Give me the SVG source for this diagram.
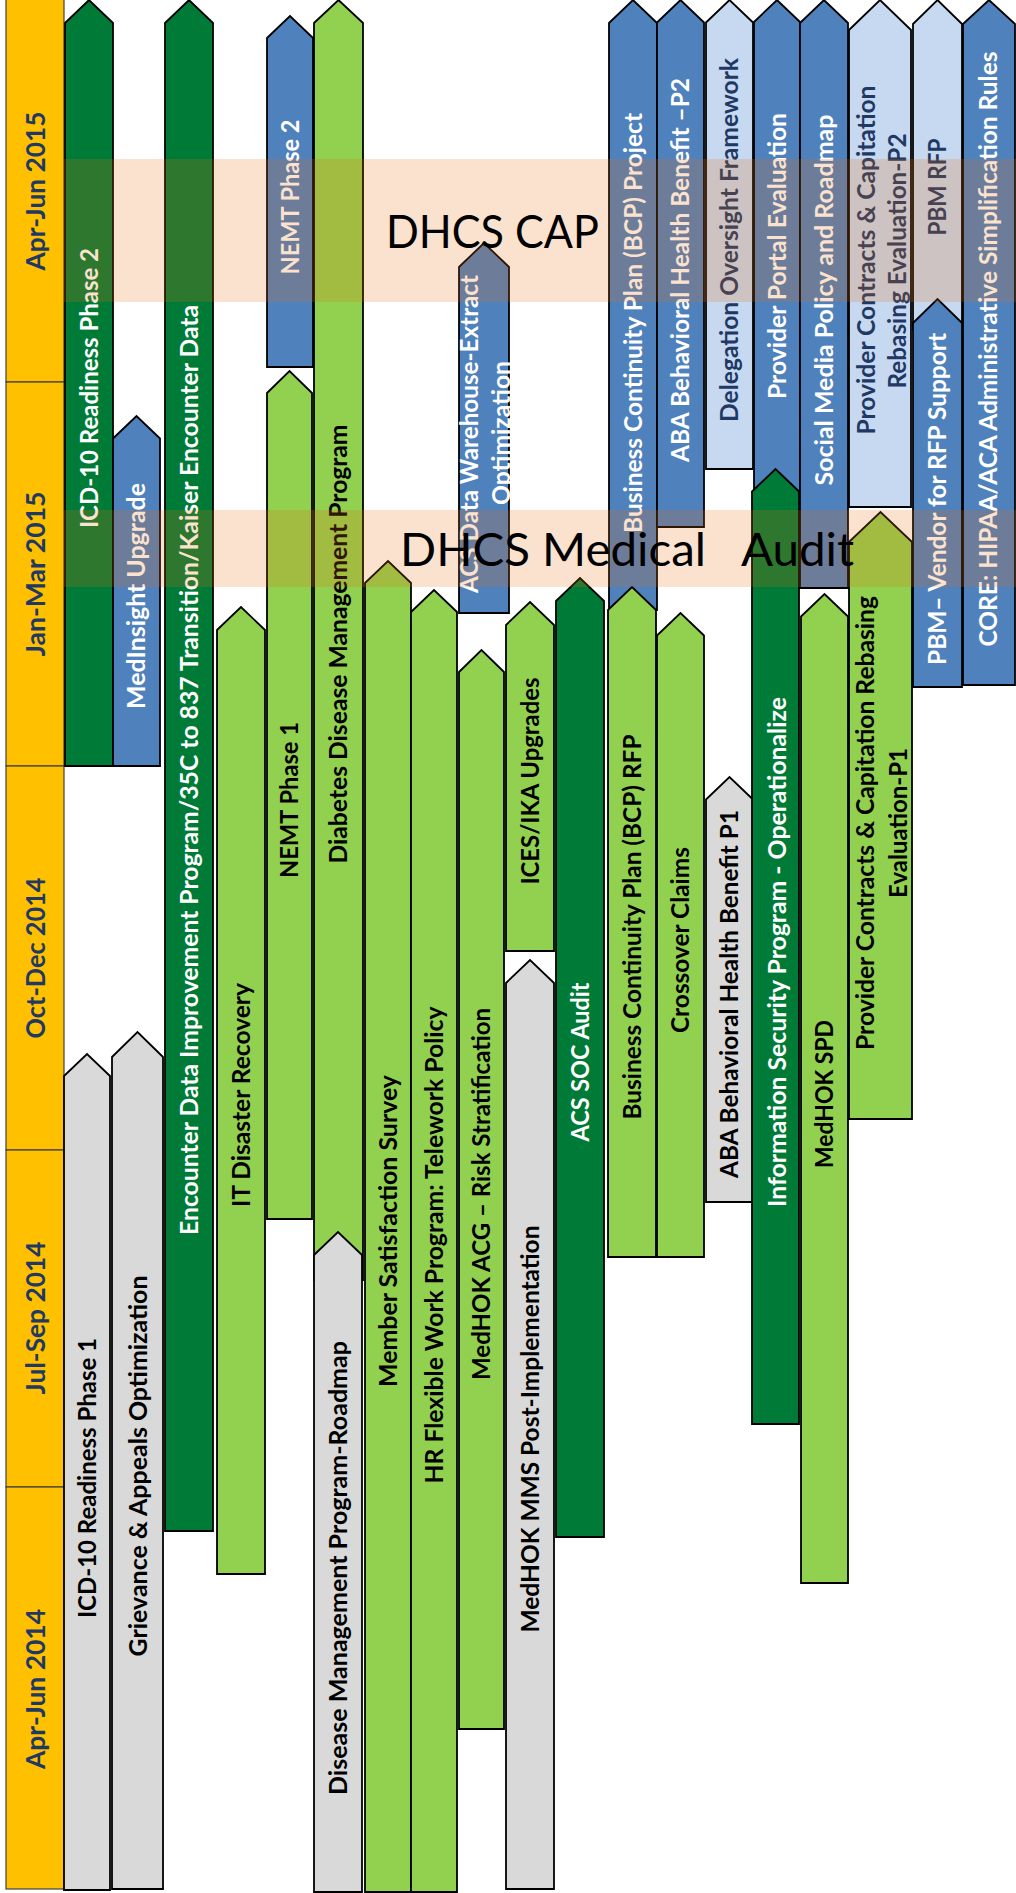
<svg xmlns="http://www.w3.org/2000/svg" width="1016" height="1893" viewBox="0 0 1016 1893">
<style>
.q{fill:#FFC000;stroke:#404040;stroke-width:1.2}
.ql{font-family:Lato,"Liberation Sans",sans-serif;font-weight:700;font-size:27px;fill:#1F3864;text-anchor:middle}
.s{stroke:#000;stroke-width:1.8;stroke-linejoin:miter}
.dg{fill:#007A37}.lg{fill:#92D050}.bl{fill:#4F81BD}.lb{fill:#C6D9F1}.gr{fill:#D9D9D9}
.t{font-family:Lato,"Liberation Sans",sans-serif;font-weight:700;font-size:24.5px;text-anchor:middle}
.w{fill:#FFFFFF}.k{fill:#000000}.n{fill:#1F3864}
.band{fill:#E46C0A;fill-opacity:0.2}
.big{font-family:Lato,"Liberation Sans",sans-serif;font-weight:400;font-size:47px;fill:#000}
</style>
<g id="quarters">
<g id="q-apr-jun-2015"><rect class="q" x="6" y="-2" width="58" height="384"/><text class="ql" transform="translate(45.2,191) rotate(-90)" textLength="159" lengthAdjust="spacingAndGlyphs">Apr-Jun 2015</text></g>
<g id="q-jan-mar-2015"><rect class="q" x="6" y="382" width="58" height="384"/><text class="ql" transform="translate(45.2,574) rotate(-90)" textLength="165" lengthAdjust="spacingAndGlyphs">Jan-Mar 2015</text></g>
<g id="q-oct-dec-2014"><rect class="q" x="6" y="766" width="58" height="384"/><text class="ql" transform="translate(45.2,958) rotate(-90)" textLength="161" lengthAdjust="spacingAndGlyphs">Oct-Dec 2014</text></g>
<g id="q-jul-sep-2014"><rect class="q" x="6" y="1150" width="58" height="337"/><text class="ql" transform="translate(45.2,1318) rotate(-90)" textLength="153" lengthAdjust="spacingAndGlyphs">Jul-Sep 2014</text></g>
<g id="q-apr-jun-2014"><rect class="q" x="6" y="1487" width="58" height="402"/><text class="ql" transform="translate(45.2,1689) rotate(-90)" textLength="160" lengthAdjust="spacingAndGlyphs">Apr-Jun 2014</text></g>
</g>
<g id="projects">
<g id="icd10-p2"><polygon class="s dg" points="65,23 89,0 113,23 113,766 65,766"/><text class="t w" transform="translate(97.8,388) rotate(-90)" textLength="280" lengthAdjust="spacingAndGlyphs">ICD-10 Readiness Phase 2</text></g>
<g id="icd10-p1"><polygon class="s gr" points="64,1076 87,1054 110,1076 110,1890 64,1890"/><text class="t k" transform="translate(96.3,1478) rotate(-90)" textLength="280" lengthAdjust="spacingAndGlyphs">ICD-10 Readiness Phase 1</text></g>
<g id="medinsight"><polygon class="s bl" points="113,438.5 136.5,416 160,438.5 160,766 113,766"/><text class="t w" transform="translate(145.3,596) rotate(-90)" textLength="226" lengthAdjust="spacingAndGlyphs">MedInsight Upgrade</text></g>
<g id="grievance"><polygon class="s gr" points="112,1057 137.5,1032 163,1057 163,1889 112,1889"/><text class="t k" transform="translate(146.8,1466) rotate(-90)" textLength="381" lengthAdjust="spacingAndGlyphs">Grievance &amp; Appeals Optimization</text></g>
<g id="encounter"><polygon class="s dg" points="165,23 189,0 213,23 213,1531 165,1531"/><text class="t w" transform="translate(197.8,770) rotate(-90)" textLength="930" lengthAdjust="spacingAndGlyphs">Encounter Data Improvement Program/35C to 837 Transition/Kaiser Encounter Data</text></g>
<g id="it-dr"><polygon class="s lg" points="217,630 241,607 265,630 265,1574 217,1574"/><text class="t k" transform="translate(249.8,1095) rotate(-90)" textLength="224" lengthAdjust="spacingAndGlyphs">IT Disaster Recovery</text></g>
<g id="nemt-p2"><polygon class="s bl" points="267,38 290,16 313,38 313,367 267,367"/><text class="t w" transform="translate(298.8,197) rotate(-90)" textLength="155" lengthAdjust="spacingAndGlyphs">NEMT Phase 2</text></g>
<g id="nemt-p1"><polygon class="s lg" points="267,393 289.5,371 312,393 312,1219 267,1219"/><text class="t k" transform="translate(298.3,800) rotate(-90)" textLength="156" lengthAdjust="spacingAndGlyphs">NEMT Phase 1</text></g>
<g id="diabetes"><polygon class="s lg" points="314,23 338.5,0 363,23 363,1280 314,1280"/><text class="t k" transform="translate(347.3,644) rotate(-90)" textLength="439" lengthAdjust="spacingAndGlyphs">Diabetes Disease Management Program</text></g>
<g id="dm-roadmap"><polygon class="s gr" points="314,1255 338,1232 362,1255 362,1892 314,1892"/><text class="t k" transform="translate(346.8,1568) rotate(-90)" textLength="454" lengthAdjust="spacingAndGlyphs">Disease Management Program-Roadmap</text></g>
<g id="member-sat"><polygon class="s lg" points="365,583 388,561 411,583 411,1892 365,1892"/><text class="t k" transform="translate(396.8,1231) rotate(-90)" textLength="312" lengthAdjust="spacingAndGlyphs">Member Satisfaction Survey</text></g>
<g id="hr-flex"><polygon class="s lg" points="411,612 434,590 457,612 457,1892 411,1892"/><text class="t k" transform="translate(442.8,1245) rotate(-90)" textLength="477" lengthAdjust="spacingAndGlyphs">HR Flexible Work Program: Telework Policy</text></g>
<g id="acs-dw"><polygon class="s bl" points="459,267 484,243 509,267 509,613 459,613"/><text class="t w" transform="translate(477.8,434) rotate(-90)" textLength="318" lengthAdjust="spacingAndGlyphs">ACS Data Warehouse-Extract</text><text class="t w" transform="translate(509.8,433) rotate(-90)" textLength="144" lengthAdjust="spacingAndGlyphs">Optimization</text></g>
<g id="medhok-acg"><polygon class="s lg" points="459,672 481.5,650 504,672 504,1729 459,1729"/><text class="t k" transform="translate(489.8,1194) rotate(-90)" textLength="372" lengthAdjust="spacingAndGlyphs">MedHOK ACG – Risk Stratification</text></g>
<g id="ices"><polygon class="s lg" points="506,625 530,602 554,625 554,951 506,951"/><text class="t k" transform="translate(538.8,781) rotate(-90)" textLength="207" lengthAdjust="spacingAndGlyphs">ICES/IKA Upgrades</text></g>
<g id="medhok-mms"><polygon class="s gr" points="506,983 530,960 554,983 554,1889 506,1889"/><text class="t k" transform="translate(538.8,1429) rotate(-90)" textLength="407" lengthAdjust="spacingAndGlyphs">MedHOK MMS Post-Implementation</text></g>
<g id="acs-soc"><polygon class="s dg" points="556,601 580,578 604,601 604,1537 556,1537"/><text class="t w" transform="translate(588.8,1062) rotate(-90)" textLength="159" lengthAdjust="spacingAndGlyphs">ACS SOC Audit</text></g>
<g id="bcp-project"><polygon class="s bl" points="609,23 633,0 657,23 657,610 609,610"/><text class="t w" transform="translate(641.8,323) rotate(-90)" textLength="420" lengthAdjust="spacingAndGlyphs">Business Continuity Plan (BCP) Project</text></g>
<g id="bcp-rfp"><polygon class="s lg" points="608,610 632,587 656,610 656,1257 608,1257"/><text class="t k" transform="translate(640.8,927) rotate(-90)" textLength="385" lengthAdjust="spacingAndGlyphs">Business Continuity Plan (BCP) RFP</text></g>
<g id="aba-p2"><polygon class="s bl" points="657,22.5 680.5,0 704,22.5 704,527 657,527"/><text class="t w" transform="translate(688.8,270) rotate(-90)" textLength="384" lengthAdjust="spacingAndGlyphs">ABA Behavioral Health Benefit –P2</text></g>
<g id="crossover"><polygon class="s lg" points="657,635.5 680.5,613 704,635.5 704,1257 657,1257"/><text class="t k" transform="translate(688.8,940) rotate(-90)" textLength="186" lengthAdjust="spacingAndGlyphs">Crossover Claims</text></g>
<g id="delegation"><polygon class="s lb" points="706,22.5 729.5,0 753,22.5 753,469 706,469"/><text class="t n" transform="translate(737.8,240) rotate(-90)" textLength="364" lengthAdjust="spacingAndGlyphs">Delegation Oversight Framework</text></g>
<g id="aba-p1"><polygon class="s gr" points="706,799.5 729.5,777 753,799.5 753,1202 706,1202"/><text class="t k" transform="translate(737.8,994) rotate(-90)" textLength="368" lengthAdjust="spacingAndGlyphs">ABA Behavioral Health Benefit P1</text></g>
<g id="provider-portal"><polygon class="s bl" points="754,22 777,0 800,22 800,500 754,500"/><text class="t w" transform="translate(785.8,256) rotate(-90)" textLength="286" lengthAdjust="spacingAndGlyphs">Provider Portal Evaluation</text></g>
<g id="info-security"><polygon class="s dg" points="752,491.5 775.5,469 799,491.5 799,1424 752,1424"/><text class="t w" transform="translate(785.8,952) rotate(-90)" textLength="510" lengthAdjust="spacingAndGlyphs">Information Security Program - Operationalize</text></g>
<g id="social-media"><polygon class="s bl" points="800,23 824,0 848,23 848,588 800,588"/><text class="t w" transform="translate(832.8,300) rotate(-90)" textLength="371" lengthAdjust="spacingAndGlyphs">Social Media Policy and Roadmap</text></g>
<g id="medhok-spd"><polygon class="s lg" points="801,616.5 824.5,594 848,616.5 848,1583 801,1583"/><text class="t k" transform="translate(832.8,1094) rotate(-90)" textLength="148" lengthAdjust="spacingAndGlyphs">MedHOK SPD</text></g>
<g id="prov-contracts-p2"><polygon class="s lb" points="849,30 880,0 911,30 911,507 849,507"/><text class="t n" transform="translate(875.3,260) rotate(-90)" textLength="349" lengthAdjust="spacingAndGlyphs">Provider Contracts &amp; Capitation</text><text class="t n" transform="translate(906.3,261) rotate(-90)" textLength="255" lengthAdjust="spacingAndGlyphs">Rebasing Evaluation-P2</text></g>
<g id="prov-contracts-p1"><polygon class="s lg" points="849,542 880.5,512 912,542 912,1119 849,1119"/><text class="t k" transform="translate(874.3,823) rotate(-90)" textLength="454" lengthAdjust="spacingAndGlyphs">Provider Contracts &amp; Capitation Rebasing</text><text class="t k" transform="translate(906.8,823) rotate(-90)" textLength="150" lengthAdjust="spacingAndGlyphs">Evaluation-P1</text></g>
<g id="pbm-rfp"><polygon class="s lb" points="913,24 937.5,0 962,24 962,330 913,330"/><text class="t n" transform="translate(945.8,187) rotate(-90)" textLength="97" lengthAdjust="spacingAndGlyphs">PBM RFP</text></g>
<g id="pbm-vendor"><polygon class="s bl" points="913,323 937.5,299 962,323 962,687 913,687"/><text class="t w" transform="translate(945.8,499) rotate(-90)" textLength="332" lengthAdjust="spacingAndGlyphs">PBM– Vendor for RFP Support</text></g>
<g id="core-hipaa"><polygon class="s bl" points="963,24 989,0 1015,24 1015,685 963,685"/><text class="t w" transform="translate(996.8,349) rotate(-90)" textLength="595" lengthAdjust="spacingAndGlyphs">CORE: HIPAA/ACA Administrative Simplification Rules</text></g>
</g>
<g id="dhcs-cap"><rect class="band" x="63" y="159" width="953" height="143"/><text class="big" x="386" y="248" textLength="213" lengthAdjust="spacingAndGlyphs">DHCS CAP</text></g>
<g id="dhcs-medical-audit"><rect class="band" x="63" y="510" width="953" height="77"/><text class="big" x="400" y="566" textLength="454" lengthAdjust="spacingAndGlyphs" xml:space="preserve" style="white-space:pre">DHCS Medical   Audit</text></g>
</svg>
